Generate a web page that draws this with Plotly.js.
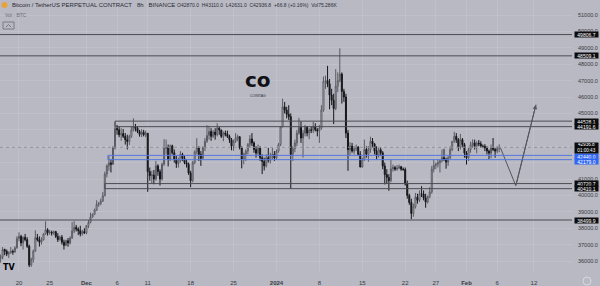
<!DOCTYPE html>
<html><head><meta charset="utf-8">
<script src="https://cdn.plot.ly/plotly-3.0.1.min.js"></script>
<style>html,body{margin:0;padding:0;background:#b8b9c3;}#c{width:600px;height:286px;}</style>
</head><body><div id="c"></div>
<script>
// ---- data (BTCUSDT perpetual, 8h candles) ----
const candleStart = '2023-11-17T00:00:00Z';
const candleHours = 8;
const openP = [
36160,36250,36700, 36590,36420,36500, 36580,36550,36800, 37380,37500,37100, 37450,37300,36900,
35750,36100,36600, 37420,37300,37150, 37290,37650,37900, 37720,37750,37700, 37790,37500,37300,
37450,37150,36950, 37240,37100,37400, 37830,38050,37950, 37850,37650,37800, 37710,38150,38350,
38680,38850,39100, 39450,39500,39650, 39970,41300,41800, 41980,41900,42900, 44080,44000,43700,
43770,43600,43400, 43290,43600,44000, 44170,44100,43900, 43720,43850,43700, 43790,41450,41200,
41240,41000,41800, 41450,41000,41900, 42890,42900,42200, 43020,42600,42200, 41940,42100,42500,
42260,42000,41900, 41370,40900,42000, 42660,42900,42500, 42260,42900,43300, 43660,43900,43600,
43860,43700,44100, 43990,43600,43800, 43730,43600,43400, 43010,43300,43500, 43580,42900,42200,
42520,42700,43100, 43440,43200,42800, 42580,42900,42300, 42070,41800,42300, 42140,42400,42500,
42280,42700,43100, 44180,45400,45200, 44950,44800,42500, 42850,43200,43800, 44150,43500,43800,
44160,43800,44000, 43970,44200,44000, 43930,44100,45200, 46970,47000,46800, 46120,45800,45300,
46660,47000,47400, 46340,46000,43800, 42780,43000,42700, 42840,42950,42500, 41730,42200,42800,
42510,42800,43300, 43140,42700,42400, 42780,42600,41800, 41270,41100,40900, 41620,41700,41600,
41660,41750,41600, 41580,40700,40000, 39570,38900,39300, 39890,39700,40100, 40080,39850,39600,
39930,40200,41600, 41820,41900,42000, 42120,42300,42200, 42030,42300,42800, 43300,43600,43400,
42940,43400,43100, 42580,42300,42800, 43080,43200,43000, 43190,43150,43000, 42990,42900,42700,
42580,42900,42800, 42700,42870];
const highP = [
36400,36850,36750, 36700,36600,36850, 36700,36900,37510, 37750,37600,37500, 37650,37450,37000,
36200,36700,37870, 37650,37500,37450, 37700,38420,38000, 37900,37850,37850, 37840,37700,37550,
37580,37300,37300, 37400,37500,38380, 38430,38200,38050, 38150,37900,38000, 38200,38500,38950,
38900,39200,39700, 39600,39800,40200, 41450,41900,42400, 42200,43000,44480, 44300,44200,44100,
44050,43800,43700, 43700,44200,44700, 44360,44200,44000, 44040,44000,43950, 43800,41700,41500,
41550,42100,41900, 41600,42000,43430, 43400,43100,43100, 43090,42800,42400, 42300,42700,42600,
42430,42200,42000, 41500,42100,42750, 43490,43000,42700, 43000,43500,44280, 44240,44100,44000,
44100,44400,44200, 44000,43900,43950, 43950,43700,43500, 43400,43800,43700, 43600,43000,42600,
42800,43200,43680, 43800,43300,43000, 43100,43000,42500, 42300,42500,42900, 42600,42900,42700,
42800,43200,44200, 45900,45700,45400, 45500,45000,43000, 43400,44000,44730, 44500,44000,44300,
44230,44100,44200, 44500,44400,44100, 44300,45500,47250, 47300,47900,47100, 46500,46200,47700,
47500,48970,47500, 46500,46200,44000, 43250,43200,43000, 43100,43000,42700, 42300,43400,43000,
43000,43580,43500, 43200,43000,42900, 42930,42700,42000, 41600,41300,42200, 41880,41800,41850,
41880,41800,41700, 41700,40900,40100, 39800,39500,40150, 40100,40300,40560, 40300,40100,40000,
40500,41800,42200, 42000,42200,42150, 42800,42840,42300, 42400,43000,43300, 43880,43800,43500,
43750,43500,43200, 42700,42900,43280, 43420,43400,43300, 43380,43300,43100, 43120,43000,42800,
43100,43500,42900, 43000,43110];
const lowP = [
35900,36100,36350, 36300,36180,36450, 36380,36500,36750, 37200,36900,36700, 37200,36800,35630,
35650,35900,36550, 37200,36880,37000, 37250,37600,37550, 37600,37550,37600, 37400,37160,37250,
37000,36700,36900, 36870,37000,37350, 37700,37800,37580, 37500,37550,37650, 37620,38000,38300,
38640,38800,39050, 39300,39400,39600, 39970,41100,41500, 41400,41850,42800, 43700,43550,43330,
43500,43100,42800, 43080,43500,43900, 43900,43800,43580, 43560,43600,43550, 40220,40900,40700,
40680,40900,41200, 40600,40900,41800, 42500,41770,42100, 42500,42000,41680, 41700,42000,42100,
41900,41700,41250, 40500,40800,41900, 42500,42100,41800, 42200,42700,43200, 43400,43330,43500,
43400,43600,43700, 43500,43300,43600, 43500,43200,42750, 42720,43200,43300, 42800,41650,41900,
42100,42500,42900, 43000,42600,42300, 42400,42100,41300, 41520,41700,42000, 41950,42200,42100,
42180,42600,43000, 44150,45000,44700, 44600,40400,42100, 42630,43000,43700, 43200,42300,43600,
43600,43430,43800, 43800,43900,43600, 43200,44000,45100, 46500,46600,45250, 45500,44350,45200,
46300,46900,45600, 45700,43500,41500, 42450,42600,42500, 42700,42400,41720, 41700,42100,42300,
42050,42600,42900, 42500,42200,42300, 42400,41600,40670, 40700,40280,40800, 41450,41500,41500,
41600,41500,41500, 40600,39800,39430, 38550,38700,39200, 39500,39600,39900, 39700,39250,39500,
39820,40100,41400, 41600,41700,41400, 42000,42100,41630, 41800,42200,42700, 43200,43200,42700,
42800,42900,42300, 41880,42100,42600, 42900,42800,42570, 43000,42900,42880, 42700,42500,42220,
42260,42700,42300, 42570,42631];
const closeP = [
36250,36700,36590, 36420,36500,36580, 36550,36800,37380, 37500,37100,37450, 37300,36900,35750,
36100,36600,37420, 37300,37150,37290, 37650,37900,37720, 37750,37700,37790, 37500,37300,37450,
37150,36950,37240, 37100,37400,37830, 38050,37950,37850, 37650,37800,37710, 38150,38350,38680,
38850,39100,39450, 39500,39650,39970, 41300,41800,41980, 41900,42900,44080, 44000,43700,43770,
43600,43400,43290, 43600,44000,44170, 44100,43900,43720, 43850,43700,43790, 41450,41200,41240,
41000,41800,41450, 41000,41900,42890, 42900,42200,43020, 42600,42200,41940, 42100,42500,42260,
42000,41900,41370, 40900,42000,42660, 42900,42500,42260, 42900,43300,43660, 43900,43600,43860,
43700,44100,43990, 43600,43800,43730, 43600,43400,43010, 43300,43500,43580, 42900,42200,42520,
42700,43100,43440, 43200,42800,42580, 42900,42300,42070, 41800,42300,42140, 42400,42500,42280,
42700,43100,44180, 45400,45200,44950, 44800,42500,42850, 43200,43800,44150, 43500,43800,44160,
43800,44000,43970, 44200,44000,43930, 44100,45200,46970, 47000,46800,46120, 45800,45300,46660,
47000,47400,46340, 46000,43800,42780, 43000,42700,42840, 42950,42500,41730, 42200,42800,42510,
42800,43300,43140, 42700,42400,42780, 42600,41800,41270, 41100,40900,41620, 41700,41600,41660,
41750,41600,41580, 40700,40000,39570, 38900,39300,39890, 39700,40100,40080, 39850,39600,39930,
40200,41600,41820, 41900,42000,42120, 42300,42200,42030, 42300,42800,43300, 43600,43400,42940,
43400,43100,42580, 42300,42800,43080, 43200,43000,43190, 43150,43000,42990, 42900,42700,42580,
42900,42800,42700, 42870,42936.8];

// drawn levels (price) and where each drawing starts
const levelPrices = [49806.7, 48509.1, 44528.1, 44191.6, 42440.0, 42179.0, 40720.7, 40410.1, 38499.9];
const levelStarts = ['2023-11-16 00:00','2023-11-16 00:00','2023-12-05 16:00','2023-12-05 16:00',
                     '2023-12-04 12:00','2023-12-04 12:00','2023-12-04 00:00','2023-12-04 00:00','2023-11-16 00:00'];
const levelIsBlue = [false,false,false,false,true,true,false,false,false];
const levelLabelNudge = [0,0,0,0,-1.2,-2,0,0,0];
const lastPrice = 42936.8;
const countdown = '01:00:43';
// projected path drawing
const projX = ['2024-02-06 12:00','2024-02-09 01:00','2024-02-12 08:00'];
const projY = [42936.8, 40590, 45530];
// axis ticks
const xTickVals = ['2023-11-20','2023-11-25','2023-12-01','2023-12-06','2023-12-11','2023-12-18','2023-12-25',
                   '2024-01-01','2024-01-08','2024-01-15','2024-01-22','2024-01-27','2024-02-01','2024-02-06','2024-02-12'];
const xTickText = ['20','25','<b>Dec</b>','6','11','18','25','<b>2024</b>','8','15','22','27','<b>Feb</b>','6','12'];
const yTickVals = [36000,37000,38000,39000,40000,41000,42000,43000,44000,45000,46000,47000,48000,49000,50000,51000];
// price labels covered by the level tags are not drawn on the price scale
const yTickText = ['36000.0','37000.0','38000.0','39000.0','40000.0','41000.0','','','',
                   '45000.0','46000.0','47000.0','48000.0','49000.0','50000.0','51000.0'];
const headerTitle = 'Bitcoin / TetherUS PERPETUAL CONTRACT \u00A0 8h \u00A0 BINANCE';
const headerOHLC = 'O42870.0 \u00A0H43110.0 \u00A0L42631.0 \u00A0C42936.8 \u00A0+66.8 (+0.16%) \u00A0Vol75.286K';

// ---- build ----
const t0 = Date.parse(candleStart);
const xs = openP.map((_, i) => new Date(t0 + i * candleHours * 3600000).toISOString().slice(0, 16).replace('T', ' '));

const FONT = 'Liberation Sans, Arial, sans-serif';
const BG = '#b8b9c3';
const PW = 572, PH = 272;
const px = v => v / PW;
const py = v => 1 - v / PH;

const traces = [
  {
    type: 'candlestick', x: xs, open: openP, high: highP, low: lowP, close: closeP,
    increasing: { line: { color: '#5a5a62', width: 1 }, fillcolor: '#e4e4ea' },
    decreasing: { line: { color: '#16161a', width: 1 }, fillcolor: '#16161a' },
    whiskerwidth: 0, hoverinfo: 'skip', showlegend: false
  },
  {
    type: 'scatter', mode: 'lines', x: projX, y: projY,
    line: { color: '#55555e', width: 1 }, hoverinfo: 'skip', showlegend: false
  }
];

const shapes = [];
const annotations = [];
const farRight = '2024-03-15';
const boxFont = { family: FONT, size: 5, color: '#ffffff' };
levelPrices.forEach((p, i) => {
  shapes.push({ type: 'line', xref: 'x', yref: 'y', x0: levelStarts[i], x1: farRight, y0: p, y1: p,
    line: { color: levelIsBlue[i] ? '#5577dd' : '#4b4b53', width: 1 } });
  annotations.push({ xref: 'paper', yref: 'y', x: 1, y: p, xanchor: 'left', yanchor: 'middle', xshift: 2,
    yshift: levelLabelNudge[i], width: 23, height: 5, align: 'center', valign: 'middle',
    text: p.toFixed(1), showarrow: false, bgcolor: levelIsBlue[i] ? '#2f66f2' : '#0c0c0e',
    font: boxFont, borderpad: 0 });
});
// vertical connectors at the start of paired levels
[[2, 3], [4, 5], [6, 7]].forEach(([a, b]) => {
  shapes.push({ type: 'line', xref: 'x', yref: 'y', x0: levelStarts[a], x1: levelStarts[b], y0: levelPrices[a], y1: levelPrices[b],
    line: { color: levelIsBlue[a] ? '#5577dd' : '#4b4b53', width: 1 } });
});
// current price dotted line
shapes.push({ type: 'line', xref: 'paper', yref: 'y', x0: 0, x1: 1, y0: lastPrice, y1: lastPrice,
  line: { color: '#92929c', width: 1, dash: 'dot' } });
annotations.push({ xref: 'paper', yref: 'y', x: 1, y: lastPrice, xanchor: 'left', yanchor: 'middle', xshift: 2,
  yshift: -0.5, width: 23, height: 9.5, align: 'center', valign: 'middle',
  text: lastPrice.toFixed(1) + '<br>' + countdown, showarrow: false, bgcolor: '#0c0c0e',
  font: { family: FONT, size: 4.6, color: '#ffffff' }, borderpad: 0 });
// arrow head of the projection
annotations.push({ xref: 'x', yref: 'y', x: projX[2], y: projY[2], axref: 'x', ayref: 'y',
  ax: projX[1], ay: projY[1], showarrow: true, arrowhead: 2, arrowsize: 0.9, arrowwidth: 1, arrowcolor: '#55555e', text: '' });

// header
shapes.push({ type: 'circle', xref: 'paper', yref: 'paper', x0: px(1.5), x1: px(7.5), y0: py(8), y1: py(2),
  fillcolor: '#e8a23a', line: { color: '#e8a23a', width: 0 } });
annotations.push({ xref: 'paper', yref: 'paper', x: px(10), y: py(5), xanchor: 'left', yanchor: 'middle',
  text: headerTitle, showarrow: false, font: { family: FONT, size: 6, color: '#2a2a32' } });
annotations.push({ xref: 'paper', yref: 'paper', x: px(175), y: py(5), xanchor: 'left', yanchor: 'middle',
  text: headerOHLC, showarrow: false, font: { family: FONT, size: 5, color: '#2f2f37' } });
annotations.push({ xref: 'paper', yref: 'paper', x: px(3), y: py(15), xanchor: 'left', yanchor: 'middle',
  text: 'Vol · BTC', showarrow: false, font: { family: FONT, size: 5, color: '#6e6e78' } });
shapes.push({ type: 'rect', xref: 'paper', yref: 'paper', x0: px(3), x1: px(14), y0: py(29), y1: py(22),
  line: { color: '#7a7a84', width: 1 }, fillcolor: 'rgba(0,0,0,0)' });
shapes.push({ type: 'path', xref: 'paper', yref: 'paper',
  path: `M ${px(6)} ${py(27)} L ${px(8.5)} ${py(24.5)} L ${px(11)} ${py(27)}`, line: { color: '#7a7a84', width: 1 } });

// watermark logo
annotations.push({ xref: 'paper', yref: 'paper', x: px(258), y: py(80), xanchor: 'center', yanchor: 'middle',
  text: '<b>co</b>', showarrow: false, font: { family: 'DejaVu Sans, sans-serif', size: 20, color: '#111114' } });
annotations.push({ xref: 'paper', yref: 'paper', x: px(258), y: py(95.5), xanchor: 'center', yanchor: 'middle',
  text: 'COINTAG', showarrow: false, font: { family: FONT, size: 3.5, color: '#303038' } });
// TV logo
annotations.push({ xref: 'paper', yref: 'paper', x: px(9), y: py(267.5), xanchor: 'center', yanchor: 'middle',
  text: '<b>TV</b>', showarrow: false, font: { family: 'DejaVu Sans, sans-serif', size: 8, color: '#000000' } });
// settings icon
shapes.push({ type: 'circle', xref: 'paper', yref: 'paper', x0: px(583), x1: px(591), y0: py(285), y1: py(277),
  line: { color: '#d8d8de', width: 1 }, fillcolor: 'rgba(0,0,0,0)' });

const layout = {
  width: 600, height: 286,
  margin: { l: 0, r: 28, t: 0, b: 14, pad: 0 },
  paper_bgcolor: BG, plot_bgcolor: BG,
  showlegend: false,
  font: { family: FONT },
  xaxis: {
    type: 'date', range: ['2023-11-16 21:40', '2024-02-18 05:00'],
    tickmode: 'array', tickvals: xTickVals, ticktext: xTickText,
    tickfont: { family: FONT, size: 6, color: '#3a3a42' },
    showgrid: true, gridcolor: 'rgba(255,255,255,0.10)', gridwidth: 1,
    zeroline: false, showline: false, ticks: '', ticklabelstandoff: 6,
    rangeslider: { visible: false }, fixedrange: true
  },
  yaxis: {
    side: 'right', range: [35329, 51915],
    tickmode: 'array', tickvals: yTickVals, ticktext: yTickText,
    tickfont: { family: FONT, size: 5.5, color: '#3a3a42' },
    showgrid: true, gridcolor: 'rgba(255,255,255,0.10)', gridwidth: 1,
    zeroline: false, showline: false, ticks: '', fixedrange: true, ticklabelstandoff: 5
  },
  shapes: shapes,
  annotations: annotations
};

Plotly.newPlot('c', traces, layout, { staticPlot: true, displayModeBar: false });
</script>
</body></html>
